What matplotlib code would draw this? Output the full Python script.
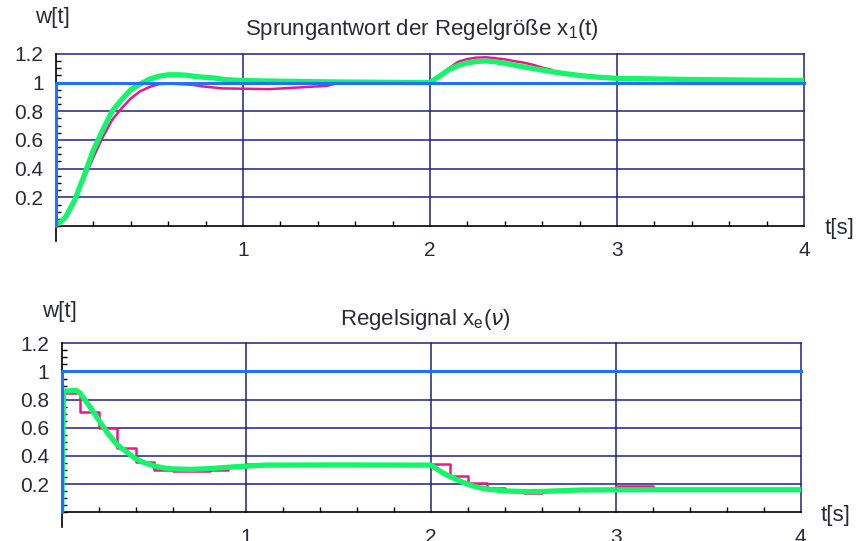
import matplotlib
matplotlib.use("Agg")
import matplotlib.pyplot as plt
from matplotlib.ticker import MultipleLocator, FixedLocator

plt.rcParams['font.family'] = ['Liberation Sans', 'DejaVu Sans']
plt.rcParams['mathtext.fontset'] = 'dejavusans'

# ---- data -------------------------------------------------------------
# reference input w(t): unit step at t = 0
w_t = [0.0, 0.0, 4.0]
w_y = [0.0, 1.0, 1.0]

# controlled variable x1(t), continuous controller
x1_cont_t = [0, 0.05, 0.10, 0.15, 0.20, 0.25, 0.30, 0.35, 0.40, 0.45, 0.50,
             0.55, 0.60, 0.65, 0.70, 0.75, 0.80, 0.85, 0.90, 0.95, 1.00,
             1.20, 1.50, 2.00, 2.05, 2.10, 2.15, 2.20, 2.25, 2.30, 2.35,
             2.40, 2.50, 2.60, 2.70, 2.80, 2.90, 3.00, 3.20, 3.40, 3.70, 4.00]
x1_cont_y = [0, 0.06, 0.18, 0.35, 0.53, 0.67, 0.80, 0.88, 0.95, 0.99, 1.025,
             1.045, 1.055, 1.055, 1.052, 1.042, 1.037, 1.032, 1.022, 1.018, 1.015,
             1.010, 1.005, 1.000, 1.045, 1.090, 1.120, 1.138, 1.148, 1.152, 1.145,
             1.135, 1.110, 1.088, 1.067, 1.050, 1.038, 1.030, 1.026, 1.022, 1.018, 1.015]

# controlled variable x1(t), sampled controller
x1_disc_t = [0, 0.05, 0.10, 0.15, 0.20, 0.25, 0.30, 0.35, 0.40, 0.45, 0.50,
             0.55, 0.61, 0.73, 0.79, 0.89, 1.14, 1.29, 1.45, 1.50, 2.00,
             2.05, 2.10, 2.15, 2.20, 2.25, 2.30, 2.35, 2.40, 2.45, 2.50,
             2.55, 2.60, 2.65]
x1_disc_y = [0, 0.05, 0.17, 0.33, 0.48, 0.62, 0.74, 0.82, 0.89, 0.94, 0.97,
             0.99, 0.993, 0.985, 0.973, 0.960, 0.955, 0.966, 0.978, 0.995, 1.000,
             1.040, 1.100, 1.145, 1.165, 1.175, 1.177, 1.170, 1.163, 1.150, 1.140,
             1.125, 1.105, 1.090]

# control signal xe, continuous controller
xe_cont_t = [0, 0.01, 0.08, 0.10, 0.15, 0.20, 0.25, 0.30, 0.35, 0.40, 0.45,
             0.50, 0.55, 0.60, 0.70, 0.80, 0.90, 1.00, 1.10, 1.50, 2.00,
             2.05, 2.10, 2.15, 2.20, 2.25, 2.30, 2.40, 2.50, 2.60, 2.70,
             2.80, 3.00, 3.50, 4.00]
xe_cont_y = [0, 0.86, 0.865, 0.845, 0.755, 0.655, 0.56, 0.48, 0.43, 0.38, 0.35,
             0.33, 0.315, 0.308, 0.305, 0.31, 0.32, 0.328, 0.335, 0.336, 0.335,
             0.29, 0.255, 0.225, 0.197, 0.178, 0.165, 0.152, 0.147, 0.148, 0.153,
             0.158, 0.16, 0.16, 0.16]

# control signal xe, sampled controller (zero-order hold, T = 0.1 s)
xe_disc_t = [0.0, 0.0, 0.1, 0.2, 0.3, 0.4, 0.5, 0.6, 0.7, 0.8, 0.9, 1.0,
             1.5, 2.0, 2.1, 2.2, 2.3, 2.4, 2.5, 2.6, 2.7, 3.0, 3.2, 4.0]
xe_disc_y = [0.0, 0.85, 0.71, 0.60, 0.455, 0.36, 0.30, 0.29, 0.29, 0.30, 0.32,
             0.34, 0.34, 0.345, 0.26, 0.205, 0.17, 0.155, 0.14, 0.15, 0.155,
             0.185, 0.16, 0.16]

y_ticks = [0.2, 0.4, 0.6, 0.8, 1.0, 1.2]
y_labels = ["0.2", "0.4", "0.6", "0.8", "1", "1.2"]
x_ticks = [1, 2, 3, 4]
x_labels = ["1", "2", "3", "4"]

# ---- styling ----------------------------------------------------------
GRID = '#20208a'
TEXT = '#2a2a3a'
BLUE = '#1f72ff'
GREEN = '#14f56a'
PINK = '#f0148c'

W, H = 861, 541
fig = plt.figure(figsize=(W / 100, H / 100), dpi=100)


def make_axes(x0, x4, y12, y0):
    ax = fig.add_axes([x0 / W, 1 - y0 / H, (x4 - x0) / W, (y0 - y12) / H])
    ax.set_xlim(0, 4)
    ax.set_ylim(0, 1.2)
    for s in ax.spines.values():
        s.set_visible(False)
    ax.xaxis.set_major_locator(FixedLocator(x_ticks))
    ax.set_xticklabels(x_labels)
    ax.yaxis.set_major_locator(FixedLocator(y_ticks))
    ax.set_yticklabels(y_labels)
    ax.xaxis.set_minor_locator(MultipleLocator(0.2))
    ax.yaxis.set_minor_locator(MultipleLocator(0.05))
    ax.tick_params(axis='x', which='major', length=0, pad=11,
                   labelsize=15, labelcolor=TEXT)
    ax.tick_params(axis='y', which='major', length=0, pad=9,
                   labelsize=15, labelcolor=TEXT)
    ax.tick_params(which='minor', direction='in', length=3.5, width=1.0,
                   color='black')
    ax.grid(True, which='major', color=GRID, lw=1.1)
    for gl in ax.get_xgridlines() + ax.get_ygridlines():
        gl.set_clip_on(False)
    ax.set_axisbelow(True)
    ax.axhline(0, color='black', lw=1.2, zorder=1.5, clip_on=False)
    ax.axvline(0, ymin=-0.085, ymax=1, color='black', lw=1.2, zorder=1.5,
               clip_on=False)
    ax.text(4.11, -0.02, "t[s]", fontsize=16, color=TEXT,
            ha='left', va='center', clip_on=False)
    return ax


# top: step response of the controlled variable
ax1 = make_axes(56, 804, 54, 226)
ax1.plot(x1_disc_t, x1_disc_y, color=PINK, lw=1.8, zorder=2)
ax1.plot(x1_cont_t, x1_cont_y, color=GREEN, lw=3.8, zorder=3)
ax1.plot(w_t, w_y, color=BLUE, lw=2.2, zorder=4, clip_on=False)
fig.text(422 / W, 1 - 30 / H,
         r"Sprungantwort der Regelgröße x$_\mathregular{1}$(t)",
         fontsize=16, color=TEXT, ha='center', va='center')
fig.text(35 / W, 1 - 18 / H, "w[t]", fontsize=16, color=TEXT,
         ha='left', va='center')

# bottom: control signal
ax2 = make_axes(61.7, 800.7, 343.3, 512.3)
ax2.plot(xe_disc_t, xe_disc_y, color=PINK, lw=1.8, zorder=2,
         drawstyle='steps-post')
ax2.plot(xe_cont_t, xe_cont_y, color=GREEN, lw=3.8, zorder=3)
ax2.plot(w_t, w_y, color=BLUE, lw=2.2, zorder=4, clip_on=False)
fig.text(425 / W, 1 - 320 / H,
         r"Regelsignal x$_\mathregular{e}$($\nu$)",
         fontsize=16, color=TEXT, ha='center', va='center')
fig.text(42 / W, 1 - 312 / H, "w[t]", fontsize=16, color=TEXT,
         ha='left', va='center')

fig.savefig("out.png", dpi=100, facecolor='white')
